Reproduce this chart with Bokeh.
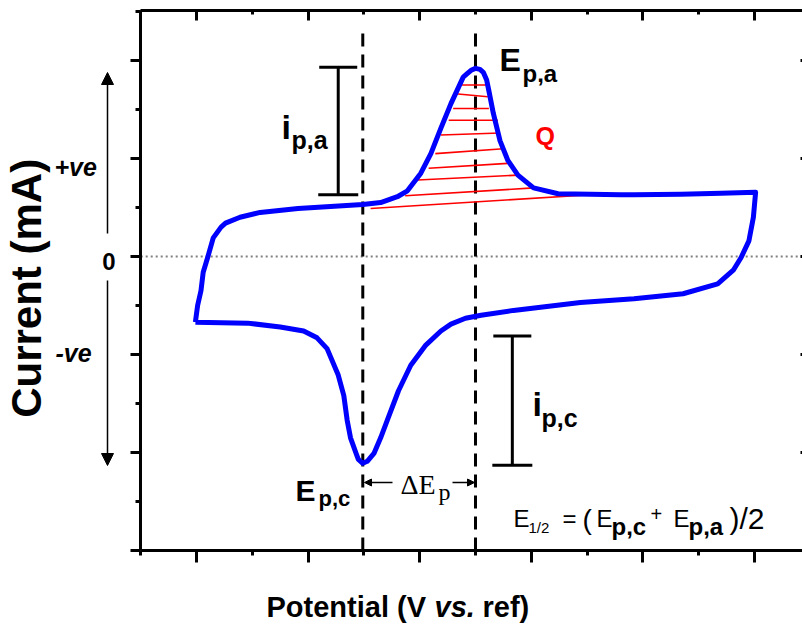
import math
from bokeh.plotting import figure
from bokeh.models import (Label, Arrow, NormalHead, Whisker, TeeHead,
                          ColumnDataSource, FixedTicker, LinearAxis, Range1d)
from bokeh.embed import file_html
from bokeh.resources import INLINE

# ---------------- data (axis units: one major tick = 1) ----------------
potential = [-0.01, 0.01, 0.04, 0.06, 0.10, 0.15, 0.22, 0.26, 0.39, 0.57, 0.91, 1.20,
             1.49, 1.65, 1.80, 1.89, 2.01, 2.10, 2.19, 2.28, 2.39, 2.42, 2.46, 2.50,
             2.54, 2.57, 2.60, 2.62, 2.66, 2.72, 2.79, 2.88, 3.02, 3.24, 3.53, 3.80,
             3.92, 4.34, 4.70, 5.01,
             4.99, 4.95, 4.88, 4.81, 4.67, 4.36, 3.92, 3.44, 2.84, 2.55, 2.41, 2.28,
             2.19, 2.05, 1.92, 1.81, 1.71, 1.65, 1.59, 1.53, 1.49, 1.45, 1.43, 1.38,
             1.35, 1.32, 1.27, 1.17, 1.08, 0.96, 0.75, 0.46, -0.01]
current = [-0.67, -0.50, -0.35, -0.16, -0.01, 0.19, 0.30, 0.34, 0.40, 0.45, 0.49, 0.51,
           0.53, 0.55, 0.61, 0.67, 0.85, 1.05, 1.31, 1.56, 1.83, 1.86, 1.90, 1.92,
           1.91, 1.88, 1.80, 1.69, 1.46, 1.18, 0.98, 0.83, 0.70, 0.64, 0.635, 0.63,
           0.63, 0.635, 0.645, 0.655,
           0.40, 0.16, -0.01, -0.14, -0.28, -0.38, -0.43, -0.47, -0.55, -0.60, -0.63, -0.69,
           -0.76, -0.91, -1.11, -1.37, -1.67, -1.85, -2.01, -2.09, -2.11, -2.07, -2.01, -1.85,
           -1.67, -1.42, -1.21, -0.94, -0.83, -0.76, -0.72, -0.68, -0.67]

# peak potentials (dashed markers)
E_pc = 1.49
E_pa = 2.50
marker_top = 2.32

# charge (Q) hatching segments under the anodic peak
q_x0 = [1.56, 1.87, 1.98, 2.08, 2.14, 2.19, 2.26, 2.30, 2.32, 2.38]
q_y0 = [0.49, 0.62, 0.78, 0.90, 1.05, 1.24, 1.39, 1.51, 1.66, 1.75]
q_x1 = [3.53, 3.02, 2.88, 2.79, 2.75, 2.72, 2.70, 2.62, 2.61, 2.61]
q_y1 = [0.63, 0.70, 0.83, 0.95, 1.10, 1.26, 1.39, 1.51, 1.63, 1.75]

# peak-current bars
ipa_x, ipa_top, ipa_bottom = 1.27, 1.93, 0.63
ipc_x, ipc_top, ipc_bottom = 2.83, -0.81, -2.13

# axes extents and ticks
x_lo, x_hi = -0.5, 5.5
y_lo, y_hi = -3.0, 2.51
x_major = [0, 1, 2, 3, 4, 5]
x_minor = [-0.5, 0.5, 1.5, 2.5, 3.5, 4.5, 5.5]
y_major = [-3, -2, -1, 0, 1, 2]
y_minor = [-2.5, -1.5, -0.5, 0.5, 1.5, 2.5]
zero_x = [x_lo, x_hi]
zero_y = [0.0, 0.0]


def X(px):
    return (px - 196) / 111.6


def Y(py):
    return (256 - py) / 98


# ---------------- figure ----------------
FONT = "Liberation Sans"
W, H = 802, 626
p = figure(width=W, height=H, output_backend="svg", toolbar_location=None,
           x_range=Range1d(X(0), X(W)), y_range=Range1d(Y(H), Y(0)),
           x_axis_location=None, y_axis_location=None, min_border=0)
p.background_fill_color = "white"
p.border_fill_color = "white"
p.outline_line_color = None
p.xgrid.visible = False
p.ygrid.visible = False

xt = FixedTicker(ticks=x_major, minor_ticks=x_minor)
yt = FixedTicker(ticks=y_major, minor_ticks=y_minor)

common = dict(axis_line_width=3, major_tick_line_width=3, minor_tick_line_width=3,
              major_label_text_color=None, major_label_standoff=0)

bottom = LinearAxis(ticker=xt, fixed_location=y_lo, bounds=(x_lo, x_hi),
                    major_tick_out=12, major_tick_in=0, minor_tick_out=5, minor_tick_in=0,
                    **common)
top = LinearAxis(ticker=xt, fixed_location=y_hi, bounds=(x_lo, x_hi),
                 major_tick_out=0, major_tick_in=10, minor_tick_out=0, minor_tick_in=4,
                 **common)
left = LinearAxis(ticker=yt, fixed_location=x_lo, bounds=(y_lo, y_hi),
                  major_tick_out=10, major_tick_in=0, minor_tick_out=5, minor_tick_in=0,
                  **common)
right = LinearAxis(ticker=yt, fixed_location=x_hi, bounds=(y_lo, y_hi),
                   major_tick_out=0, major_tick_in=10, minor_tick_out=0, minor_tick_in=4,
                   **common)
p.add_layout(bottom, "below")
p.add_layout(top, "above")
p.add_layout(left, "left")
p.add_layout(right, "right")

# zero line
p.line(zero_x, zero_y, line_color="#808080", line_dash="2 3", line_width=2)

# peak potential markers
p.segment(x0=[E_pc, E_pa], y0=[y_lo, y_lo], x1=[E_pc, E_pa], y1=[marker_top, marker_top],
          line_color="black", line_width=3, line_dash="13 8")

# Q hatching
p.segment(x0=q_x0, y0=q_y0, x1=q_x1, y1=q_y1, line_color="#FF0000", line_width=1.6)

# CV curve
p.line(potential, current, line_color="#0000FF", line_width=5, line_join="round")

# peak current bars
bars = ColumnDataSource(dict(base=[ipa_x, ipc_x], upper=[ipa_top, ipc_top],
                             lower=[ipa_bottom, ipc_bottom]))
p.add_layout(Whisker(source=bars, base="base", upper="upper", lower="lower",
                     dimension="height", line_width=3, line_color="black",
                     upper_head=TeeHead(size=38, line_width=3, line_color="black"),
                     lower_head=TeeHead(size=40, line_width=3, line_color="black")))

# +ve / -ve arrows
for y0, y1 in ((Y(233), Y(72)), (Y(280), Y(465))):
    p.add_layout(Arrow(x_start=X(107), y_start=y0, x_end=X(107), y_end=y1,
                       line_width=1.5, line_color="black",
                       end=NormalHead(size=12, fill_color="black", line_color="black",
                                      line_width=1)))

# Delta E arrows
for x0, x1 in ((X(392), X(364)), (X(452), X(474))):
    p.add_layout(Arrow(x_start=x0, y_start=Y(482), x_end=x1, y_end=Y(482),
                       line_width=1.5, line_color="black",
                       end=NormalHead(size=7, fill_color="black", line_color="black",
                                      line_width=1)))

K = 0.4  # renderer places the alphabetic baseline about 0.4 em low


def lbl(text, px, py, size, style="bold", color="black", font=FONT,
        align="left", angle=0.0):
    if angle:
        px = px - K * size
    else:
        py = py - K * size
    p.add_layout(Label(x=X(px), y=Y(py), text=text, text_font=font,
                       text_font_size=f"{size}px", text_font_style=style,
                       text_color=color, text_align=align,
                       text_baseline="alphabetic", angle=angle))


# axis titles and tick label
lbl("Current  (mA)", 43, 282, 42, align="center", angle=math.pi / 2)
lbl("Potential (V", 266, 618, 29)
lbl("vs.", 434, 618, 29, style="bold italic")
lbl("ref)", 482, 618, 29)
lbl("0", 115, 271, 24, align="right")

# direction labels
lbl("+ve", 54, 176, 25, style="bold italic")
lbl("-ve", 55, 362, 25, style="bold italic")

# peak annotations
lbl("E", 499, 72, 32)
lbl("p,a", 522, 83, 24)
lbl("E", 295, 502, 30)
lbl("p,c", 318, 507, 22)
lbl("Q", 535, 145, 25, color="#FF0000")
lbl("i", 281, 140, 34)
lbl("p,a", 291, 149, 25)
lbl("i", 532, 417, 34)
lbl("p,c", 541, 427, 25)
lbl("\u0394E", 400, 495, 28, style="normal", font="Liberation Serif")
lbl("p", 438, 501, 24, style="normal", font="Liberation Serif")

# half-wave potential formula
lbl("E", 513, 528, 24, style="normal")
lbl("1/2", 528, 533, 15, style="normal")
lbl("=", 562, 528, 24, style="normal")
lbl("(", 582, 530, 28, style="normal")
lbl("E", 596, 528, 24, style="normal")
lbl("p,c", 611, 536, 24)
lbl("+", 650, 521, 20, style="normal")
lbl("E", 673, 528, 24, style="normal")
lbl("p,a", 688, 536, 24)
lbl(")/2", 729, 530, 30, style="normal")

open("out.html", "w").write(file_html(p, INLINE))
